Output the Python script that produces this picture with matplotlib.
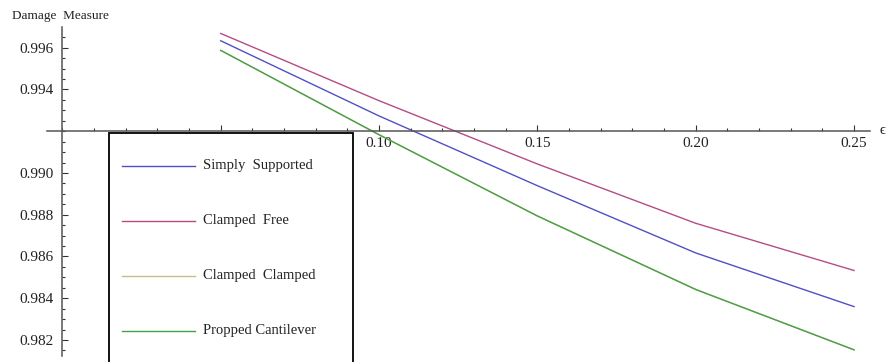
import matplotlib
matplotlib.use("Agg")
import matplotlib.pyplot as plt
from matplotlib.lines import Line2D
from matplotlib.patches import Rectangle
from matplotlib.ticker import FixedLocator, MultipleLocator, FixedFormatter

plt.rcParams['font.family'] = ['Liberation Serif', 'DejaVu Serif']

# strain parameter and damage measure for each support condition
epsilon = [0.05, 0.10, 0.15, 0.20, 0.25]
simply_supported = [0.99633, 0.99273, 0.98939, 0.98617, 0.98360]
clamped_free = [0.99668, 0.99346, 0.99043, 0.98759, 0.98533]
clamped_clamped = [0.99587, 0.99183, 0.98794, 0.98442, 0.98153]
propped_cantilever = [0.99587, 0.99183, 0.98794, 0.98442, 0.98153]

series = [
    ("Simply  Supported", simply_supported, "#5050c4"),
    ("Clamped  Free", clamped_free, "#b44c86"),
    ("Clamped  Clamped", clamped_clamped, "#c9bd8c"),
    ("Propped Cantilever", propped_cantilever, "#48a048"),
]

y_major = [0.982, 0.984, 0.986, 0.988, 0.990, 0.994, 0.996]
x_major = [0.05, 0.10, 0.15, 0.20, 0.25]

W, H = 893, 362
fig = plt.figure(figsize=(W / 100, H / 100), dpi=100)
ax = fig.add_axes([46.6 / W, (H - 356.1) / H, (869.9 - 46.6) / W, (356.1 - 27.2) / H])
ax.set_xlim(-0.005, 0.255)
ax.set_ylim(0.98123, 0.99698)

for name, vals, color in series:
    ax.plot(epsilon, vals, color=color, lw=1.0)

# axes cross at (0, 0.992)
for side in ['top', 'right']:
    ax.spines[side].set_visible(False)
ax.spines['left'].set_position(('data', 0.0))
ax.spines['bottom'].set_position(('data', 0.992))
for side in ['left', 'bottom']:
    ax.spines[side].set_color('#555555')
    ax.spines[side].set_linewidth(1.1)

ax.yaxis.set_major_locator(FixedLocator(y_major))
ax.yaxis.set_major_formatter(FixedFormatter(['%.3f' % v for v in y_major]))
ax.yaxis.set_minor_locator(MultipleLocator(0.0005))
ax.xaxis.set_major_locator(FixedLocator(x_major))
ax.xaxis.set_major_formatter(FixedFormatter(['%.2f' % v for v in x_major]))
ax.xaxis.set_minor_locator(MultipleLocator(0.01))
ax.tick_params(which='both', direction='in', color='#333333', width=0.8,
               labelsize=11, labelcolor='#222222')
ax.tick_params(which='major', length=4.5)
ax.tick_params(which='minor', length=2.5)
ax.tick_params(axis='y', which='major', pad=6)
ax.tick_params(axis='x', which='major', pad=4)

fig.text(12 / W, 1 - 16 / H, "Damage  Measure", fontsize=9.5, va='center', ha='left',
         color='#222222')
fig.text(880 / W, 1 - 131 / H, "\u03f5", fontsize=10.5, va='center', ha='left',
         color='#222222')

# boxed legend to the lower left
box = Rectangle((109 / W, 1 - 366 / H), (353 - 109) / W, (366 - 133) / H,
                transform=fig.transFigure, facecolor='white', edgecolor='black',
                lw=1.3, zorder=5)
fig.patches.append(box)
for i, (name, vals, color) in enumerate(series):
    yc = 1 - (165.7 + 55 * i) / H
    fig.lines.append(Line2D([122 / W, 195 / W], [yc, yc], transform=fig.transFigure,
                            color=color, lw=1.0, zorder=6))
    fig.text(203 / W, yc, name, fontsize=10.5, va='center', ha='left',
             color='#222222', zorder=6)

fig.savefig("out.png", dpi=100)
